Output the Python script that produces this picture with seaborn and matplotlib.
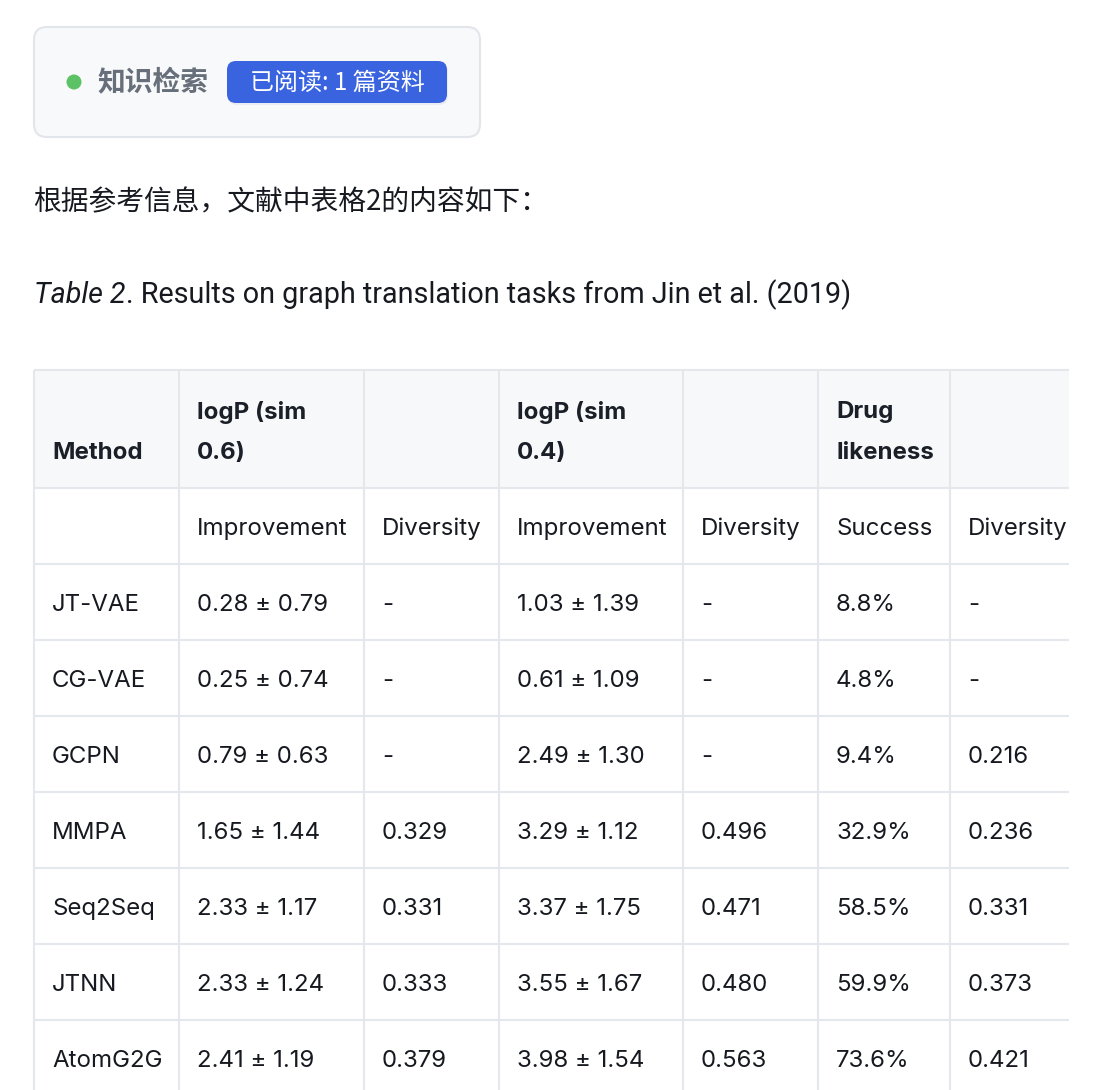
import matplotlib
matplotlib.use("Agg")
import matplotlib.pyplot as plt
from matplotlib.patches import FancyBboxPatch, Rectangle, Circle
import seaborn as sns

# ---------------- data ----------------
methods = ["JT-VAE", "CG-VAE", "GCPN", "MMPA", "Seq2Seq", "JTNN", "AtomG2G"]
logp06_improvement = ["0.28 ± 0.79", "0.25 ± 0.74", "0.79 ± 0.63", "1.65 ± 1.44",
                      "2.33 ± 1.17", "2.33 ± 1.24", "2.41 ± 1.19"]
logp06_diversity = ["-", "-", "-", "0.329", "0.331", "0.333", "0.379"]
logp04_improvement = ["1.03 ± 1.39", "0.61 ± 1.09", "2.49 ± 1.30", "3.29 ± 1.12",
                      "3.37 ± 1.75", "3.55 ± 1.67", "3.98 ± 1.54"]
logp04_diversity = ["-", "-", "-", "0.496", "0.471", "0.480", "0.563"]
drug_success = ["8.8%", "4.8%", "9.4%", "32.9%", "58.5%", "59.9%", "73.6%"]
drug_diversity = ["-", "-", "0.216", "0.236", "0.331", "0.373", "0.421"]

header_top = ["Method", "logP (sim\n0.6)", "", "logP (sim\n0.4)", "", "Drug\nlikeness", ""]
header_sub = ["", "Improvement", "Diversity", "Improvement", "Diversity", "Success", "Diversity"]

badge_label = "知识检索"
badge_button = "已阅读: 1 篇资料"
intro_text = "根据参考信息，文献中表格2的内容如下："
caption_italic = "Table 2"
caption_rest = ". Results on graph translation tasks from Jin et al. (2019)"

# ---------------- style ----------------
sns.set_theme(style="white")
plt.rcParams['font.family'] = ['Inter', 'Noto Sans CJK SC', 'DejaVu Sans']

W, H = 1102, 1090
fig = plt.figure(figsize=(W / 100, H / 100), dpi=100)
ax = fig.add_axes([0, 0, 1, 1])
ax.set_xlim(0, W)
ax.set_ylim(H, 0)
ax.axis("off")

cjk = ['Noto Sans CJK SC', 'DejaVu Sans']
txt_color = "#16191f"
border = "#e4e7ec"

# ---- knowledge retrieval badge ----
ax.add_patch(FancyBboxPatch((34, 27), 446, 110, boxstyle="round,pad=0,rounding_size=13",
                            fc="#f8f9fb", ec="#e2e5ea", lw=1.5))
ax.add_patch(Circle((74, 82), 7.5, fc="#5cc265", ec="none"))
ax.text(98, 83, badge_label, family=cjk, fontsize=20, fontweight="bold",
        color="#676f7b", va="center", ha="left")
ax.add_patch(FancyBboxPatch((228, 63), 220, 42, boxstyle="round,pad=0,rounding_size=9",
                            fc="#e9ecf3", ec="none"))
ax.add_patch(FancyBboxPatch((227, 61), 220, 42, boxstyle="round,pad=0,rounding_size=9",
                            fc="#3a63e0", ec="none"))
ax.text(337, 83, badge_button, family=cjk, fontsize=17.3, fontweight="medium",
        color="white", va="center", ha="center")

# ---- intro text ----
ax.text(33, 202, intro_text, family=cjk, fontsize=20, color=txt_color,
        va="center", ha="left")

# ---- caption ----
t1 = ax.text(34, 295, caption_italic, family=['Roboto', 'DejaVu Sans'], style="italic",
             fontsize=20.7, color=txt_color, va="center", ha="left")
fig.canvas.draw()
bb = t1.get_window_extent()
x_end = bb.x1  # pixel == data unit horizontally
ax.text(x_end, 295, caption_rest, family=['Roboto', 'DejaVu Sans'],
        fontsize=20.7, color=txt_color, va="center", ha="left")

# ---- table ----
col_edges = [34, 179, 364, 499, 683, 818, 950, 1069]
row_edges = [370, 488, 564, 640, 716, 792, 868, 944, 1020, 1096]
right_clip = 1069

# header background
ax.add_patch(Rectangle((34, 370), right_clip - 34, 118, fc="#f7f8fa", ec="none"))

lw = 1.5
for y in row_edges[:-1]:
    ax.plot([34, right_clip], [y, y], color=border, lw=lw, solid_capstyle="butt")
for x in col_edges[:-1]:
    ax.plot([x, x], [370, H], color=border, lw=lw, solid_capstyle="butt")

pad = 18
fs = 17.3
dy = 3
# header top row
for i, lab in enumerate(header_top):
    if not lab:
        continue
    lines = lab.split("\n")
    if len(lines) == 1:
        ax.text(col_edges[i] + pad, 450 + dy, lines[0], fontsize=fs, fontweight="bold",
                color="#1b1f27", va="center", ha="left")
    else:
        ax.text(col_edges[i] + pad, 409 + dy, lines[0], fontsize=fs, fontweight="bold",
                color="#1b1f27", va="center", ha="left")
        ax.text(col_edges[i] + pad, 450 + dy, lines[1], fontsize=fs, fontweight="bold",
                color="#1b1f27", va="center", ha="left")

# header sub row
yc = (row_edges[1] + row_edges[2]) / 2 + dy
for i, lab in enumerate(header_sub):
    if lab:
        ax.text(col_edges[i] + pad, yc, lab, fontsize=fs, color=txt_color,
                va="center", ha="left")

columns = [methods, logp06_improvement, logp06_diversity, logp04_improvement,
           logp04_diversity, drug_success, drug_diversity]
for r in range(len(methods)):
    yc = (row_edges[r + 2] + row_edges[r + 3]) / 2 + dy
    for c, col in enumerate(columns):
        ax.text(col_edges[c] + pad, yc, col[r], fontsize=fs, color=txt_color,
                va="center", ha="left")

fig.savefig("out.png", dpi=100)
